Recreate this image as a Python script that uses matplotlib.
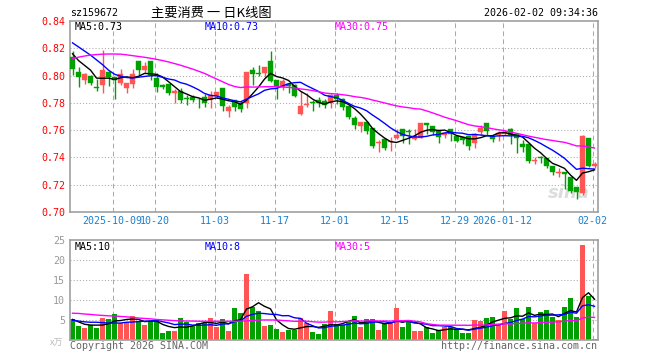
import numpy as np
import pandas as pd
import matplotlib
matplotlib.use('Agg')
import matplotlib.pyplot as plt

# daily K-line of sz159672 (2025-09-22 .. 2026-02-02)
opens = [0.8134, 0.8026, 0.7970, 0.7999, 0.7912, 0.7933, 0.8026, 0.7987, 0.7948, 0.7911,
         0.7940, 0.8107, 0.8041, 0.8107, 0.7982, 0.7933, 0.7940, 0.7869, 0.7889, 0.7835,
         0.7842, 0.7827, 0.7845, 0.7825, 0.7852, 0.7908, 0.7742, 0.7820, 0.7801, 0.7796,
         0.8041, 0.8016, 0.8021, 0.8107, 0.7967, 0.7917, 0.7936, 0.7931, 0.7716, 0.7784,
         0.7803, 0.7824, 0.7816, 0.7799, 0.7858, 0.7831, 0.7775, 0.7686, 0.7633, 0.7657,
         0.7613, 0.7505, 0.7532, 0.7514, 0.7544, 0.7605, 0.7590, 0.7534, 0.7544, 0.7656,
         0.7627, 0.7602, 0.7566, 0.7605, 0.7558, 0.7549, 0.7556, 0.7504, 0.7583, 0.7656,
         0.7558, 0.7566, 0.7571, 0.7605, 0.7573, 0.7495, 0.7500, 0.7377, 0.7400, 0.7397,
         0.7340, 0.7289, 0.7291, 0.7259, 0.7181, 0.7137, 0.7546, 0.7336]
highs = [0.8180, 0.8060, 0.8016, 0.8006, 0.7975, 0.8188, 0.8030, 0.7990, 0.8049, 0.7948,
         0.8049, 0.8107, 0.8100, 0.8107, 0.8016, 0.7940, 0.7940, 0.7901, 0.7906, 0.7857,
         0.7855, 0.7837, 0.7862, 0.7887, 0.7879, 0.7908, 0.7783, 0.7820, 0.7813, 0.8026,
         0.8065, 0.8078, 0.8063, 0.8180, 0.7967, 0.7978, 0.7941, 0.7936, 0.7890, 0.7875,
         0.7824, 0.7843, 0.7831, 0.7868, 0.7875, 0.7836, 0.7775, 0.7701, 0.7657, 0.7657,
         0.7613, 0.7525, 0.7532, 0.7549, 0.7610, 0.7605, 0.7605, 0.7605, 0.7656, 0.7656,
         0.7627, 0.7602, 0.7583, 0.7605, 0.7563, 0.7553, 0.7560, 0.7580, 0.7637, 0.7656,
         0.7560, 0.7593, 0.7602, 0.7615, 0.7578, 0.7529, 0.7500, 0.7402, 0.7414, 0.7397,
         0.7340, 0.7323, 0.7291, 0.7259, 0.7181, 0.7563, 0.7546, 0.7370]
lows = [0.8004, 0.7913, 0.7940, 0.7933, 0.7889, 0.7874, 0.7926, 0.7830, 0.7933, 0.7874,
        0.7911, 0.8002, 0.8016, 0.7965, 0.7882, 0.7904, 0.7855, 0.7800, 0.7801, 0.7781,
        0.7806, 0.7764, 0.7771, 0.7762, 0.7837, 0.7742, 0.7698, 0.7742, 0.7735, 0.7759,
        0.7933, 0.7999, 0.7987, 0.7950, 0.7828, 0.7897, 0.7873, 0.7843, 0.7709, 0.7770,
        0.7740, 0.7770, 0.7762, 0.7762, 0.7794, 0.7750, 0.7679, 0.7606, 0.7586, 0.7571,
        0.7471, 0.7439, 0.7456, 0.7446, 0.7532, 0.7504, 0.7500, 0.7531, 0.7541, 0.7573,
        0.7566, 0.7504, 0.7541, 0.7519, 0.7512, 0.7500, 0.7458, 0.7468, 0.7561, 0.7561,
        0.7512, 0.7519, 0.7561, 0.7495, 0.7436, 0.7438, 0.7357, 0.7355, 0.7357, 0.7321,
        0.7274, 0.7259, 0.7166, 0.7137, 0.7093, 0.7125, 0.7333, 0.7326]
closes = [0.8046, 0.7987, 0.8014, 0.7949, 0.7910, 0.8041, 0.7992, 0.7964, 0.8013, 0.7942,
          0.8011, 0.8043, 0.8070, 0.8001, 0.7918, 0.7918, 0.7869, 0.7889, 0.7820, 0.7831,
          0.7820, 0.7825, 0.7801, 0.7855, 0.7879, 0.7776, 0.7766, 0.7771, 0.7754, 0.8026,
          0.8014, 0.8014, 0.8063, 0.7962, 0.7913, 0.7961, 0.7922, 0.7851, 0.7780, 0.7789,
          0.7799, 0.7799, 0.7787, 0.7858, 0.7831, 0.7770, 0.7696, 0.7635, 0.7657, 0.7593,
          0.7481, 0.7510, 0.7471, 0.7524, 0.7563, 0.7556, 0.7588, 0.7558, 0.7656, 0.7637,
          0.7583, 0.7549, 0.7578, 0.7571, 0.7524, 0.7529, 0.7482, 0.7573, 0.7615, 0.7593,
          0.7536, 0.7578, 0.7590, 0.7561, 0.7544, 0.7475, 0.7377, 0.7380, 0.7397, 0.7338,
          0.7291, 0.7292, 0.7281, 0.7152, 0.7145, 0.7558, 0.7340, 0.7350]
# volume in 万手
volumes = [5.4, 3.6, 3.0, 3.9, 3.0, 5.5, 5.2, 6.5, 4.4, 4.4,
           6.0, 4.8, 3.75, 4.75, 4.75, 1.8, 2.25, 2.25, 5.5, 4.5,
           3.5, 4.3, 4.4, 5.5, 3.3, 5.25, 2.25, 8.0, 6.9, 16.5,
           8.2, 7.2, 3.5, 3.8, 2.8, 2.0, 2.6, 2.6, 5.5, 4.4,
           2.1, 1.5, 4.1, 7.3, 4.1, 3.75, 4.5, 6.1, 3.3, 5.25,
           5.25, 2.5, 4.3, 4.2, 8.1, 3.3, 4.6, 2.25, 2.25, 3.3,
           1.8, 2.5, 3.3, 3.3, 2.8, 1.8, 1.8, 5.0, 4.75, 5.5,
           5.75, 4.1, 7.25, 5.4, 8.0, 5.25, 8.25, 4.2, 7.0, 7.5,
           5.75, 5.0, 8.25, 10.5, 5.75, 23.75, 11.0, 0.25]

# moving-average values at the left edge (their history is off the chart)
ma5_head = [0.8160, 0.8110, 0.8075, 0.8040]
ma10_head = [0.8240, 0.8210, 0.8180, 0.8150, 0.8115, 0.8080, 0.8040, 0.8010, 0.7995]
ma30_head = [0.8125, 0.8135, 0.8143, 0.8150, 0.8154, 0.8157, 0.8158, 0.8158, 0.8157, 0.8152,
             0.8146, 0.8140, 0.8134, 0.8127, 0.8119, 0.8110, 0.8100, 0.8088, 0.8076, 0.8062,
             0.8048, 0.8032, 0.8016, 0.7995, 0.7975, 0.7955, 0.7935, 0.7920, 0.7912]
vma5_head = [5.2, 4.6, 4.0, 3.8]
vma10_head = [5.0, 4.8, 4.6, 4.5, 4.5, 4.4, 4.3, 4.3, 4.3]
vma30_head = [6.75, 6.7, 6.55, 6.45, 6.3, 6.2, 6.1, 6.05, 5.95, 5.85,
              5.7, 5.55, 5.45, 5.35, 5.2, 5.1, 5.0, 4.9, 4.85, 4.8,
              4.8, 4.75, 4.75, 4.75, 4.75, 4.75, 4.75, 4.75, 4.75]

date_labels = ['2025-10-09', '10-20', '11-03', '11-17', '12-01', '12-15', '12-29', '2026-01-12', '02-02']
date_index = [7, 14, 24, 34, 44, 54, 64, 72, 87]
price_ticks = [0.70, 0.72, 0.74, 0.76, 0.78, 0.80, 0.82, 0.84]
vol_ticks = [5, 10, 15, 20, 25]


def moving_avg(values, n, head):
    s = pd.Series(values).rolling(n).mean().values
    s[:len(head)] = head
    return s


RED = '#ff5555'
GREEN = '#00a000'
GRID = '#aaaaaa'
MONO = 'DejaVu Sans Mono'

x = np.arange(len(closes))
o = np.array(opens)
c = np.array(closes)
up = c >= o
colors = np.where(up, RED, GREEN)

ma5 = moving_avg(closes, 5, ma5_head)
ma10 = moving_avg(closes, 10, ma10_head)
ma30 = moving_avg(closes, 30, ma30_head)
vma5 = moving_avg(volumes, 5, vma5_head)
vma10 = moving_avg(volumes, 10, vma10_head)
vma30 = moving_avg(volumes, 30, vma30_head)

W, H = 660, 360
fig = plt.figure(figsize=(6.6, 3.6), dpi=100)


def fx(px):
    return px / W


def fy(py):
    return 1 - py / H


ax = fig.add_axes([fx(70), fy(212), fx(597.5) - fx(70), fy(21) - fy(212)])
axv = fig.add_axes([fx(70), fy(340.3), fx(597.5) - fx(70), fy(240) - fy(340.3)])

grid_x = [i - 0.33 for i in date_index]
for a in (ax, axv):
    a.set_xlim(-0.42, 87.5)
    for gx in grid_x:
        a.axvline(gx, color=GRID, lw=0.75, dashes=(4.5, 3.2), zorder=0)
    for s in a.spines.values():
        s.set_color('#a0a0a0')
        s.set_linewidth(1.2)
    a.tick_params(length=0)

# candles
ax.vlines(x, lows, highs, colors=colors, lw=1, zorder=2)
body = np.maximum(np.abs(c - o), 0.0003)
ax.bar(x, body, bottom=np.minimum(o, c), width=0.78, color=colors,
       edgecolor=colors, linewidth=0.3, zorder=3)
ax.plot(x, ma5, color='black', lw=1, zorder=4)
ax.plot(x, ma10, color='#0000ff', lw=1, zorder=4)
ax.plot(x, ma30, color='#ff00ff', lw=1, zorder=4)

ax.set_ylim(0.70, 0.84)
ax.set_yticks(price_ticks)
ax.set_yticklabels([f'{t:.2f}' for t in price_ticks], color='#ff0000',
                   fontsize=7.2, family=MONO)
for t in price_ticks[1:-1]:
    ax.axhline(t, color=GRID, lw=0.75, dashes=(1, 2), zorder=0)
ax.set_xticks(grid_x)
ax.set_xticklabels(date_labels, color='#1a80d0', fontsize=7.2, family=MONO)
ax.tick_params(axis='both', pad=3)

ax.text(0.945, 0.1, 'sina', transform=ax.transAxes, fontsize=13, fontweight='bold',
        style='italic', color='#dcdcdc', ha='center', va='center', zorder=1)

# volume
axv.bar(x, volumes, width=0.78, color=colors, zorder=2)
axv.plot(x, vma5, color='black', lw=1, zorder=3)
axv.plot(x, vma10, color='#0000ff', lw=1, zorder=3)
axv.plot(x, vma30, color='#ff00ff', lw=1, zorder=3)
axv.set_ylim(0, 25)
axv.set_yticks(vol_ticks)
axv.set_yticklabels([str(t) for t in vol_ticks], color='#999999', fontsize=7.2, family=MONO)
for t in vol_ticks[:-1]:
    axv.axhline(t, color=GRID, lw=0.75, dashes=(1, 2), zorder=0)
axv.set_xticks([])

# header and labels
fig.text(fx(70), fy(13), 'sz159672', fontsize=7.2, family=MONO, va='center')
fig.text(fx(151), fy(13), '主要消费 一 日K线图', fontsize=9.5,
         family=['Noto Sans CJK SC', 'DejaVu Sans'], va='center')
fig.text(fx(598), fy(13), '2026-02-02 09:34:36', fontsize=7.2, family=MONO,
         va='center', ha='right')
fig.text(fx(75), fy(27), f'MA5:{ma5[-1]:.2f}', fontsize=7.2, family=MONO, va='center')
fig.text(fx(205), fy(27), f'MA10:{ma10[-1]:.2f}', fontsize=7.2, family=MONO, va='center',
         color='#0000ff')
fig.text(fx(335), fy(27), f'MA30:{ma30[-1]:.2f}', fontsize=7.2, family=MONO, va='center',
         color='#ff00ff')
fig.text(fx(75), fy(247), f'MA5:{int(vma5[-1])}', fontsize=7.2, family=MONO, va='center')
fig.text(fx(205), fy(247), f'MA10:{int(vma10[-1])}', fontsize=7.2, family=MONO, va='center',
         color='#0000ff')
fig.text(fx(335), fy(247), f'MA30:{int(vma30[-1])}', fontsize=7.2, family=MONO, va='center',
         color='#ff00ff')
fig.text(fx(57), fy(343), 'x万', fontsize=6.5, family=['Noto Sans CJK SC', 'DejaVu Sans'],
         color='#bbbbbb', va='center', ha='center')
fig.text(fx(70), fy(346), 'Copyright 2026 SINA.COM', fontsize=7.2, family=MONO,
         color='#666666', va='center')
fig.text(fx(597), fy(346), 'http://finance.sina.com.cn', fontsize=7.2, family=MONO,
         color='#666666', va='center', ha='right')

fig.savefig('out.png', dpi=100)
